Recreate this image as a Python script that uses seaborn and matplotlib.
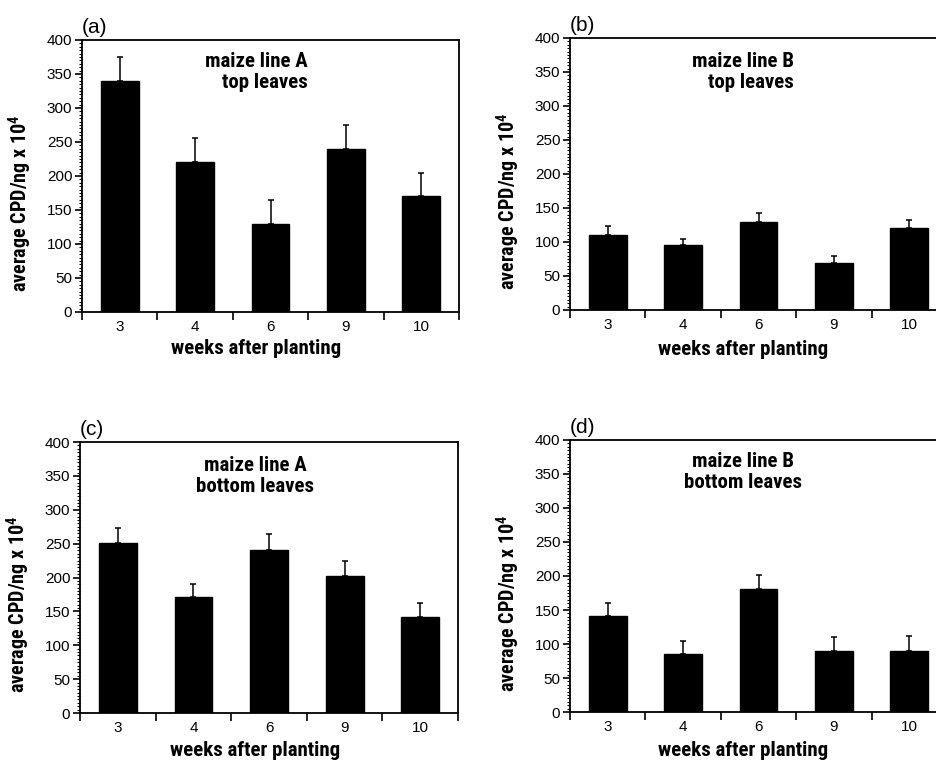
import seaborn as sns
import matplotlib.pyplot as plt
import matplotlib.ticker as mticker
from matplotlib import font_manager
import pandas as pd
import numpy as np

sns.set_style('ticks')
plt.rcParams['font.family'] = ['Liberation Sans', 'DejaVu Sans']
plt.rcParams['text.color'] = 'black'

# -- DATA -- #
weeks = ['3', '4', '6', '9', '10']

lineA_top = [340, 220, 130, 240, 170]
lineA_top_err = [35, 36, 35, 35, 35]

lineB_top = [110, 95, 130, 69, 120]
lineB_top_err = [13, 10, 13, 10, 13]

lineA_bottom = [251, 171, 240, 202, 141]
lineA_bottom_err = [22, 19, 24, 22, 21]

lineB_bottom = [141, 86, 181, 90, 90]
lineB_bottom_err = [20, 18, 21, 21, 22]


def _w(f):
    w = f.weight
    if isinstance(w, str):
        w = font_manager.weight_dict.get(w, 400)
    return w


def pick_bold_narrow():
    # the original uses a heavy condensed face; take the heaviest narrow one we have
    fonts = font_manager.fontManager.ttflist
    for name in ['Liberation Sans Narrow', 'Roboto Condensed', 'Open Sans Condensed']:
        cands = [f for f in fonts if f.name == name and f.style == 'normal' and _w(f) >= 700]
        if cands:
            best = max(cands, key=_w)
            return best.fname, best.name, _w(best)
    return None, 'Liberation Sans', 700


narrow_file, narrow_name, narrow_weight = pick_bold_narrow()
plt.rcParams['mathtext.fontset'] = 'custom'
plt.rcParams['mathtext.rm'] = f'{narrow_name}:weight={narrow_weight}'
plt.rcParams['mathtext.bf'] = f'{narrow_name}:weight={narrow_weight}'


def bold_font(size):
    if narrow_file:
        return font_manager.FontProperties(fname=narrow_file, size=size)
    return font_manager.FontProperties(family='Liberation Sans', weight='bold', size=size * 0.85)


panels = [
    ('(a)', 'maize line A\ntop leaves', 'right', lineA_top, lineA_top_err,
     [0.0875, 0.5906, 0.4024, 0.3570], (0.462, -0.098), (0.462, 0.955)),
    ('(b)', 'maize line B\ntop leaves', 'right', lineB_top, lineB_top_err,
     [0.6083, 0.5932, 0.4024, 0.3570], (0.459, -0.112), (0.459, 0.948)),
    ('(c)', 'maize line A\nbottom leaves', 'center', lineA_bottom, lineA_bottom_err,
     [0.0854, 0.0643, 0.4034, 0.3556], (0.463, -0.104), (0.463, 0.948)),
    ('(d)', 'maize line B\nbottom leaves', 'center', lineB_bottom, lineB_bottom_err,
     [0.6083, 0.0656, 0.4024, 0.3570], (0.459, -0.106), (0.459, 0.955)),
]

fig = plt.figure(figsize=(9.37, 7.62), dpi=100)

for tag, title, malign, vals, errs, pos, xlab_pos, title_pos in panels:
    ax = fig.add_axes(pos)
    df = pd.DataFrame({'week': weeks, 'cpd': vals})
    sns.barplot(data=df, x='week', y='cpd', color='black', width=0.5,
                edgecolor='black', saturation=1, errorbar=None, ax=ax)

    # one-sided error bars (upper only)
    ax.errorbar(np.arange(len(weeks)), vals, yerr=[np.zeros(len(errs)), errs],
                fmt='none', ecolor='black', elinewidth=1.1, capsize=2.5, capthick=1.1)

    ax.set_xlim(-0.5, len(weeks) - 0.5)
    ax.set_ylim(0, 400)
    ax.yaxis.set_major_locator(mticker.MultipleLocator(50))
    ax.yaxis.set_minor_locator(mticker.MultipleLocator(5))
    ax.xaxis.set_minor_locator(mticker.FixedLocator(np.arange(-0.5, len(weeks), 1.0)))

    ax.tick_params(axis='y', which='major', direction='out', length=5, width=1.2,
                   labelsize=11, pad=2, colors='black')
    ax.tick_params(axis='y', which='minor', direction='out', length=2.5, width=0.8,
                   colors='black')
    ax.tick_params(axis='x', which='major', length=0, labelsize=11, pad=6, colors='black')
    ax.tick_params(axis='x', which='minor', direction='out', length=6, width=1.2,
                   colors='black')

    for side in ['left', 'bottom', 'top', 'right']:
        ax.spines[side].set_visible(True)
        ax.spines[side].set_linewidth(1.3)
        ax.spines[side].set_color('black')

    ax.set_xlabel('weeks after planting', fontproperties=bold_font(15), color='black')
    ax.set_ylabel(r'average CPD/ng x 10$^{\mathbf{4}}$', fontproperties=bold_font(14.5),
                  color='black')
    ax.xaxis.set_label_coords(*xlab_pos)
    ax.yaxis.set_label_coords(-0.127, 0.40)

    ax.text(title_pos[0], title_pos[1], title, transform=ax.transAxes, ha='center', va='top',
            multialignment=malign, fontproperties=bold_font(15), linespacing=1.1,
            color='black')
    ax.text(0.0, 1.012, tag, transform=ax.transAxes, ha='left', va='bottom',
            fontsize=15, color='black')

fig.savefig('out.png', dpi=100)
